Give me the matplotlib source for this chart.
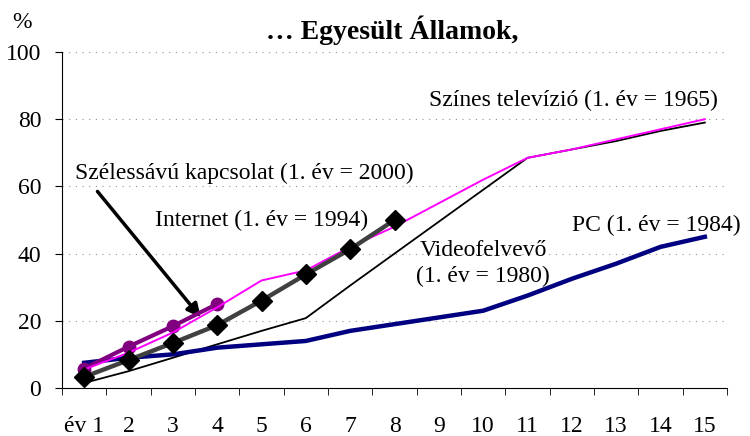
import matplotlib.pyplot as plt
from matplotlib.ticker import FixedLocator

# adoptálási arányok (%), év a bevezetéstől
evek = list(range(1, 16))
pc = [7.5, 9, 10, 12, 13, 14, 17, 19, 21, 23, 27.5, 32.5, 37, 42, 45]
szines_tv = [5.5, 10.5, 16.5, 24, 32, 35, 42, 48, 55, 62, 68.5, 71, 74, 77, 80]
videofelvevo = [1.5, 5, 9, 13, 17, 20.8, 30.5, 40, 49.5, 59, 68.5, 71, 73.5, 76.5, 79]
internet = [3.3, 8.3, 13.4, 18.7, 26, 33.8, 41.3, 50]
szeles = [5.8, 12.3, 18.4, 25]

xlabels = ['év 1'] + [str(e) for e in evek[1:]]

plt.rcParams['font.family'] = ['Liberation Serif', 'DejaVu Serif']
fs = 17

fig = plt.figure(figsize=(7.5, 4.36), dpi=100)
ax = fig.add_axes([62 / 750, 1 - 388 / 436, (727 - 62) / 750, (388 - 52) / 436])

ax.plot(evek, videofelvevo, color='black', lw=1.3, zorder=3)
ax.plot(evek, pc, color='#000080', lw=3.2, zorder=3)
ax.plot(evek[:len(szeles)], szeles, color='#800080', lw=3, marker='o',
        ms=9, zorder=4)
ax.plot(evek, szines_tv, color='#ff00ff', lw=1.4, zorder=5)
ax.plot(evek[:len(internet)], internet, color='#404040', lw=3.2, marker='D',
        ms=10, mfc='black', mec='black', zorder=6)

ax.set_xlim(0.5, 15.5)
ax.set_ylim(0, 100)
ax.set_yticks(range(0, 101, 20))
ax.set_xticks(evek)
ax.set_xticklabels(xlabels)
ax.xaxis.set_minor_locator(FixedLocator([e + 0.5 for e in range(0, 16)]))
ax.tick_params(axis='x', which='major', length=0, pad=20, labelsize=fs)
ax.tick_params(axis='x', which='minor', length=5, direction='out')
ax.tick_params(axis='y', length=5, direction='out', labelsize=fs, pad=10)
for s in ['top', 'right']:
    ax.spines[s].set_visible(False)
for y in range(20, 101, 20):
    ax.axhline(y, color='#909090', lw=0.8, ls=(0, (1, 5)), zorder=1)

fig.text(22 / 750, 1 - 22 / 436, '%', fontsize=fs, ha='center', va='center')
fig.text(392 / 750, 1 - 30 / 436, '… Egyesült Államok,', fontsize=20,
         fontweight='bold', ha='center', va='center')

ax.text(15.3, 85.5, 'Színes televízió (1. év = 1965)', fontsize=fs, ha='right', va='center')
ax.text(0.8, 64, 'Szélessávú kapcsolat (1. év = 2000)', fontsize=fs, ha='left', va='center')
ax.text(2.6, 49.8, 'Internet (1. év = 1994)', fontsize=fs, ha='left', va='center')
ax.text(10.0, 40.8, 'Videofelvevő', fontsize=fs, ha='center', va='center')
ax.text(10.0, 33.3, '(1. év = 1980)', fontsize=fs, ha='center', va='center')
ax.text(15.8, 48.5, 'PC (1. év = 1984)', fontsize=fs, ha='right', va='center')

ax.annotate('', xy=(3.63, 21), xytext=(1.3, 58.5),
            arrowprops=dict(arrowstyle='-|>', color='black', lw=2.5,
                            mutation_scale=20, shrinkA=0, shrinkB=0))

fig.savefig('out.png', dpi=100)
